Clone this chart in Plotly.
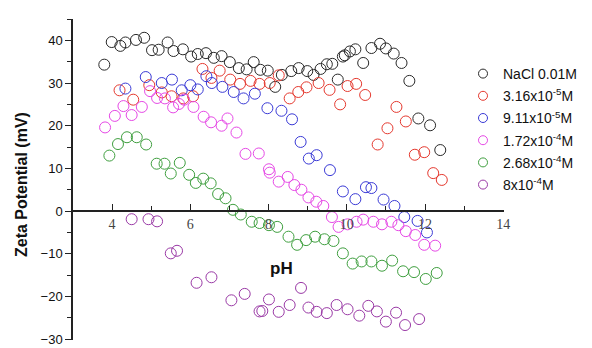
import plotly.graph_objects as go

names = ["NaCl 0.01M", "3.16x10<sup>-5</sup>M", "9.11x10<sup>-5</sup>M",
         "1.72x10<sup>-4</sup>M", "2.68x10<sup>-4</sup>M", "8x10<sup>-4</sup>M"]
colors = ["#2a2a2a", "#e5392f", "#3a3ad6", "#e649e6", "#3f9f3f", "#9a3aa6"]

ph_nacl = [3.80, 3.99, 4.21, 4.34, 4.61, 4.82, 5.02, 5.19, 5.42, 5.57, 5.81, 6.02, 6.19, 6.40,
           6.60, 6.80, 7.01, 7.24, 7.44, 7.62, 7.79, 7.98, 8.17, 8.34, 8.58, 8.77, 8.99, 9.15,
           9.33, 9.49, 9.63, 9.77, 9.90, 9.95, 10.08, 10.22, 10.42, 10.63, 10.85, 11.00, 11.20,
           11.40, 11.60, 11.83, 12.13, 12.39]
zp_nacl = [34.3, 39.6, 38.7, 39.5, 40.1, 40.6, 37.7, 37.8, 39.5, 37.5, 37.9, 36.2, 36.8, 37.0,
           35.9, 36.3, 34.9, 33.5, 33.2, 34.9, 33.1, 32.9, 29.1, 31.9, 32.8, 33.5, 32.8, 31.9,
           33.3, 34.4, 34.5, 30.8, 36.2, 36.5, 37.4, 37.9, 34.7, 38.2, 39.2, 38.1, 36.9,
           34.7, 30.5, 21.7, 20.1, 14.3]

ph_a = [4.19, 4.54, 4.95, 5.27, 5.52, 5.82, 6.07, 6.31, 6.54, 6.75, 7.02, 7.27, 7.54, 7.77,
        8.03, 8.26, 8.54, 8.76, 8.97, 9.28, 9.56, 9.83, 10.02, 10.24, 10.47, 10.79, 11.04,
        11.27, 11.51, 11.74, 11.98, 12.21, 12.43]
zp_a = [28.3, 26.1, 29.5, 27.8, 26.9, 26.4, 26.9, 33.3, 31.2, 32.9, 30.8, 29.8, 30.5, 29.8,
        30.0, 31.8, 26.4, 27.9, 29.0, 30.0, 28.4, 25.0, 29.3, 29.8, 27.2, 15.6, 19.4,
        24.4, 21.0, 13.2, 13.8, 8.9, 7.3]

ph_b = [4.34, 4.86, 5.27, 5.53, 5.78, 6.00, 6.19, 6.41, 6.55, 6.82, 7.11, 7.36, 7.65, 7.97,
        8.33, 8.60, 8.82, 9.03, 9.23, 9.57, 9.90, 10.22, 10.49, 10.63, 10.94, 11.22, 11.47,
        11.81, 12.05]
zp_b = [28.7, 31.4, 30.0, 30.8, 28.3, 29.5, 28.5, 31.6, 30.0, 29.1, 27.9, 26.4, 27.5, 24.1,
        23.5, 21.5, 16.2, 12.3, 13.1, 9.6, 4.6, 2.8, 5.6, 5.4, 2.7, 1.2, -1.4,
        -2.3, -5.0]

ph_c = [3.82, 4.07, 4.29, 4.50, 4.76, 4.97, 5.15, 5.35, 5.56, 5.71, 5.84, 6.08, 6.34, 6.53,
        6.80, 6.95, 7.18, 7.41, 7.75, 8.01, 8.03, 8.26, 8.49, 8.66, 8.84, 9.02, 9.22, 9.40,
        9.62, 9.79, 10.02, 10.25, 10.42, 10.68, 10.90, 11.14, 11.32, 11.51, 11.75, 11.98, 12.26]
zp_c = [19.6, 22.3, 24.6, 22.5, 24.4, 28.1, 26.5, 26.4, 24.3, 25.1, 26.1, 24.4, 22.1, 20.8,
        20.0, 21.7, 18.4, 13.4, 13.5, 9.8, 9.0, 6.9, 8.0, 6.1, 5.0, 3.2, 2.2, 1.2,
        -1.4, -3.7, -3.1, -2.5, -2.0, -2.5, -3.1, -2.5, -3.3, -4.7, -5.6, -7.9, -8.1]

ph_d = [3.93, 4.15, 4.38, 4.63, 4.87, 5.14, 5.34, 5.50, 5.73, 5.97, 6.14, 6.33, 6.52, 6.71,
        6.90, 7.09, 7.29, 7.57, 7.77, 8.01, 8.22, 8.51, 8.73, 8.96, 9.19, 9.43, 9.66, 9.90,
        10.15, 10.38, 10.63, 10.90, 11.16, 11.44, 11.72, 12.02, 12.30]
zp_d = [13.0, 15.7, 17.3, 17.3, 15.6, 11.1, 11.1, 8.8, 11.3, 8.5, 6.6, 7.6, 6.5, 4.0,
        3.0, 0.3, -0.8, -2.5, -2.8, -3.3, -3.7, -6.0, -7.9, -6.8, -6.0, -6.6, -7.0, -9.9,
        -12.3, -11.8, -11.8, -12.8, -11.6, -14.1, -14.3, -15.9, -14.5]

ph_e = [4.50, 4.93, 5.15, 5.50, 5.66, 6.16, 6.54, 7.05, 7.39, 7.77, 7.84, 8.01, 8.26, 8.54,
        8.83, 9.02, 9.23, 9.49, 9.74, 10.02, 10.32, 10.55, 10.77, 11.00, 11.26, 11.49, 11.85]
zp_e = [-1.9, -1.9, -2.4, -9.9, -9.3, -16.8, -15.5, -20.9, -19.4, -23.5, -23.4, -20.7, -23.6, -22.0,
        -18.0, -22.6, -23.6, -23.9, -22.0, -23.0, -24.5, -22.2, -23.5, -25.9, -23.8, -26.7, -25.3]

series_x = [ph_nacl, ph_a, ph_b, ph_c, ph_d, ph_e]
series_y = [zp_nacl, zp_a, zp_b, zp_c, zp_d, zp_e]

x_ticks = [4, 6, 8, 10, 12, 14]
x_minor = [5, 7, 9, 11, 13]
y_ticks = [-30, -20, -10, 0, 10, 20, 30, 40]
y_minor = [-25, -15, -5, 5, 15, 25, 35, 45]

fig = go.Figure()
for i, (nm, c, xs, ys) in enumerate(zip(names, colors, series_x, series_y)):
    fig.add_trace(go.Scatter(
        x=xs, y=ys, mode="markers", name=nm, showlegend=False,
        marker=dict(symbol="circle-open", size=11, color=c, line=dict(width=1, color=c)),
    ))
# legend entries (smaller symbols as in the reference)
for i, (nm, c) in enumerate(zip(names, colors)):
    fig.add_trace(go.Scatter(
        x=[None], y=[None], mode="markers", name=nm, legendgroup=str(i),
        marker=dict(symbol="circle-open", size=9, color=c, line=dict(width=1, color=c)),
    ))

sans = "Liberation Sans, Arial, sans-serif"
serif = "Liberation Serif, Times New Roman, serif"

L, T, W, H = 73, 19, 431, 321

fig.update_layout(
    width=592, height=348,
    margin=dict(l=L, r=592 - L - W, t=T, b=348 - T - H, autoexpand=False),
    paper_bgcolor="white", plot_bgcolor="white",
    showlegend=True,
    legend=dict(x=(463 - L) / W, xanchor="left", y=1 - (58 - T) / H, yanchor="top",
                font=dict(family=sans, size=14, color="#111"),
                tracegroupgap=1, bgcolor="rgba(0,0,0,0)"),
    xaxis=dict(range=[3, 14.02], anchor="free", position=30.2 / 75.2, showgrid=False, zeroline=False,
               showline=True, linecolor="#222", linewidth=1.5,
               tickvals=x_ticks, ticks="inside", ticklen=6, tickwidth=1.2, tickcolor="#222",
               tickfont=dict(family=serif, size=14, color="#444"),
               minor=dict(tickvals=x_minor, ticks="inside", ticklen=4, tickcolor="#222")),
    yaxis=dict(range=[-30.2, 45], showgrid=False, zeroline=False,
               showline=True, linecolor="#222", linewidth=1.5, ticklabeloverflow="allow",
               tickvals=y_ticks, ticks="outside", ticklen=6, tickwidth=1.2, tickcolor="#222",
               tickfont=dict(family=sans, size=13, color="#111"),
               minor=dict(tickvals=y_minor, ticks="outside", ticklen=4, tickcolor="#222")),
)

fig.add_annotation(text="<b>Zeta Potential (mV)</b>", textangle=-90, xref="paper", yref="paper",
                   x=(22 - L) / W, y=1 - (185 - T) / H, xanchor="center", yanchor="middle",
                   showarrow=False, font=dict(family=sans, size=16, color="#111"))
fig.add_annotation(text="<b>pH</b>", xref="paper", yref="paper",
                   x=(281 - L) / W, y=1 - (268 - T) / H, xanchor="center", yanchor="middle",
                   showarrow=False, font=dict(family=sans, size=17, color="#111"))

fig.write_html("out.html")
